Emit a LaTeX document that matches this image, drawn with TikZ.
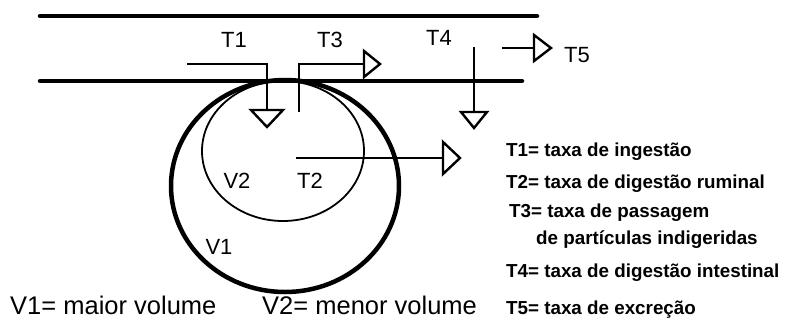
\documentclass[tikz,border=0pt]{standalone}
\usepackage{fontspec}
\setmainfont{Liberation Sans}
\begin{document}
\begin{tikzpicture}[x=1pt,y=-1pt,
  chan/.style={line width=4.5pt, line cap=round},
  flow/.style={line width=2pt},
  head/.style={line width=2.4pt, line join=miter},
  lbl/.style={font=\fontsize{22}{22}\selectfont, inner sep=0pt, anchor=base},
  leg/.style={font=\bfseries\fontsize{18.8}{19}\selectfont, inner sep=0pt, anchor=base west},
  bot/.style={font=\fontsize{25.5}{26}\selectfont, inner sep=0pt, anchor=base west}]
\useasboundingbox (0,0) rectangle (795,322);
% channel walls
\coordinate (topL) at (40,16);  \coordinate (topR) at (537,16);
\coordinate (botL) at (40,81);  \coordinate (botR) at (522,81);
\draw[chan] (topL) -- (topR);
\draw[chan] (botL) -- (botR);
% volumes
\coordinate (c1) at (285,186);
\coordinate (c2) at (283,151);
\draw[line width=4.5pt] (c1) ellipse [x radius=114, y radius=106];
\draw[line width=1.8pt] (c2) ellipse [x radius=81, y radius=70];
% T1
\coordinate (t1s) at (187,64); \coordinate (t1c) at (267,64); \coordinate (t1h) at (267,110);
\draw[flow] (t1s) -- (t1c) -- (t1h);
\draw[head] (251,110) -- (283,110) -- (267,127) -- cycle;
% T3
\coordinate (t3s) at (299,112); \coordinate (t3c) at (299,64); \coordinate (t3h) at (364,64);
\draw[flow] (t3s) -- (t3c) -- (t3h);
\draw[head] (364,51) -- (364,77) -- (380,64) -- cycle;
% T4
\coordinate (t4s) at (474,47); \coordinate (t4h) at (474,112);
\draw[flow] (t4s) -- (t4h);
\draw[head] (461,112) -- (487,112) -- (474,128) -- cycle;
% T5
\coordinate (t5s) at (502,48); \coordinate (t5h) at (534,48);
\draw[flow] (t5s) -- (t5h);
\draw[head] (534,35) -- (534,61) -- (551,48) -- cycle;
% T2
\coordinate (t2s) at (296,158); \coordinate (t2h) at (443,158);
\draw[flow] (t2s) -- (t2h);
\draw[head] (443,142) -- (443,174) -- (460,158) -- cycle;
% labels
\node[lbl] (lT1) at (234,47) {T1};
\node[lbl] (lT3) at (330,47) {T3};
\node[lbl] (lT4) at (439,45) {T4};
\node[lbl, anchor=base west] (lT5) at (564,62) {T5};
\node[lbl] (lV2) at (237,188) {V2};
\node[lbl] (lT2) at (310,188) {T2};
\node[lbl] (lV1) at (219,254) {V1};
% legend
\node[leg] (g1) at (506,156) {T1= taxa de ingestão};
\node[leg] (g2) at (506,188) {T2= taxa de digestão ruminal};
\node[leg] (g3) at (509,217) {T3= taxa de passagem};
\node[leg] (g3b) at (536,244) {de partículas indigeridas};
\node[leg] (g4) at (506,277) {T4= taxa de digestão intestinal};
\node[leg] (g5) at (506,314) {T5= taxa de excreção};
\node[bot] (b1) at (10,314) {V1= maior volume};
\node[bot] (b2) at (262,314) {V2= menor volume};
\end{tikzpicture}
\end{document}
